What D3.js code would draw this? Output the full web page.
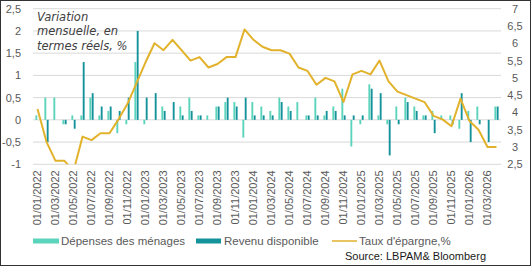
<!DOCTYPE html>
<html lang="fr">
<head>
<meta charset="UTF-8">
<title>Variation mensuelle, en termes réels</title>
<script src="https://d3js.org/d3.v7.min.js"></script>
<style>
  body { margin: 0; padding: 0; background: #ffffff; }
  svg { display: block; font-family: 'Liberation Sans', Arial, sans-serif; }
  .tick text { fill: #595959; font-size: 11px; }
</style>
</head>
<body>
<svg id="chart"></svg>
<script>
// monthly categories (Excel dates shown as dd/mm/yyyy)
const months = [
  "01/01/2022","01/02/2022","01/03/2022","01/04/2022","01/05/2022","01/06/2022",
  "01/07/2022","01/08/2022","01/09/2022","01/10/2022","01/11/2022","01/12/2022",
  "01/01/2023","01/02/2023","01/03/2023","01/04/2023","01/05/2023","01/06/2023",
  "01/07/2023","01/08/2023","01/09/2023","01/10/2023","01/11/2023","01/12/2023",
  "01/01/2024","01/02/2024","01/03/2024","01/04/2024","01/05/2024","01/06/2024",
  "01/07/2024","01/08/2024","01/09/2024","01/10/2024","01/11/2024","01/12/2024",
  "01/01/2025","01/02/2025","01/03/2025","01/04/2025","01/05/2025","01/06/2025",
  "01/07/2025","01/08/2025","01/09/2025","01/10/2025","01/11/2025","01/12/2025",
  "01/01/2026","01/02/2026","01/03/2026","01/04/2026"
];

// Dépenses des ménages (m/m, %)
const depenses = [
  0.1, 0.5, 0.5, -0.1, 0.1, 0.1, 0.5, 0.1, 0.2, -0.3, -0.1, 1.3,
  -0.1, 0, 0.3, 0, 0.3, 0.5, 0.1, 0.1, 0.3, 0.4, 0.4, -0.4,
  0.4, 0.3, 0.2, 0.5, 0.3, 0.4, 0.1, 0.5, 0.1, 0.3, 0.7, -0.6,
  -0.1, 0.8, 0.1, -0.1, 0.3, 0.5, 0.3, 0.1, 0.2, 0.1, 0.1, -0.2,
  0.2, 0.3, 0, 0.3
];

// Revenu disponible (m/m, %)
const revenu = [
  0, -0.5, 0, -0.1, -0.2, 1.3, 0.6, 0.3, 0.3, 0.2, 0.5, 2.0,
  0.5, 0.6, 0.2, 0.4, 0.1, 0.2, 0.1, 0, 0.3, 0.5, 0.3, 0.5,
  0.1, 0.1, 0.1, 0.4, 0.2, 0, 0.1, 0.1, 0.2, 0.2, 0.1, 0.1,
  0.1, 0.7, 0.6, -0.8, -0.1, 0.4, 0.2, 0.1, -0.3, 0, -0.1, 0.6,
  -0.5, -0.1, -0.5, 0.3
];

// Taux d'épargne (%), right axis
const epargne = [
  4.1, 3.15, 2.6, 2.6, 2.3, 3.3, 3.2, 3.4, 3.4, 3.8, 4.25, 4.85,
  5.45, 6.0, 5.8, 6.1, 5.8, 5.5, 5.6, 5.3, 5.4, 5.6, 5.6, 6.4,
  6.1, 5.9, 5.8, 5.8, 5.7, 5.3, 5.2, 4.8, 5.0, 4.9, 4.3, 5.1,
  5.2, 5.1, 5.5, 4.9, 4.6, 4.5, 4.4, 4.3, 3.9, 3.8, 3.6, 4.4,
  3.75, 3.5, 3.0, 3.0
];

const leftTicks = [-1, -0.5, 0, 0.5, 1, 1.5, 2, 2.5];
const rightTicks = [2.5, 3, 3.5, 4, 4.5, 5, 5.5, 6, 6.5, 7];
const seriesNames = ["Dépenses des ménages", "Revenu disponible", "Taux d'épargne,%"];

const W = 531, H = 266;
const plot = { left: 33, right: 501, top: 8.7, bottom: 164.3 };
const colLight = "#5cd3bb", colDark = "#14939b", colLine = "#e2b22c";

const svg = d3.select("#chart").attr("width", W).attr("height", H);
svg.append("rect").attr("width", W).attr("height", H).attr("fill", "#fff");

const fmt = v => String(v).replace(".", ",");

const x = d3.scaleBand().domain(months)
  .range([plot.left, plot.right]).paddingInner(0.53).paddingOuter(0.265);
const xSub = d3.scaleBand().domain(["dep", "rev"])
  .range([0, x.bandwidth()]).paddingInner(0.2);
const y = d3.scaleLinear().domain([-1, 2.5]).range([plot.bottom, plot.top]);
const y2 = d3.scaleLinear().domain([2.5, 7]).range([plot.bottom, plot.top]);

// gridlines
svg.append("g").selectAll("line").data(leftTicks).join("line")
  .attr("x1", plot.left).attr("x2", plot.right)
  .attr("y1", d => y(d)).attr("y2", d => y(d))
  .attr("stroke", "#d9d9d9").attr("stroke-width", 1);

// left axis
const gl = svg.append("g").attr("transform", `translate(${plot.left - 12},0)`)
  .call(d3.axisLeft(y).tickValues(leftTicks).tickSize(0).tickFormat(fmt));
gl.select(".domain").remove();
gl.selectAll("text").attr("x", 0);

// right axis
const gr = svg.append("g").attr("transform", `translate(${plot.right + 14},0)`)
  .call(d3.axisRight(y2).tickValues(rightTicks).tickSize(0).tickFormat(fmt));
gr.select(".domain").remove();
gr.selectAll("text").attr("x", 0).attr("text-anchor", "middle");

// annotation
const note = svg.append("text").attr("x", 37).attr("font-family", "'DejaVu Sans', sans-serif")
  .attr("font-style", "italic").attr("font-size", 11.5).attr("fill", "#404040");
["Variation", "mensuelle, en", "termes réels, %"].forEach((t, i) => {
  note.append("tspan").attr("x", 37).attr("y", 20.5 + i * 14.8).text(t);
});

// bars
const rows = months.map((m, i) => ({ m, dep: depenses[i], rev: revenu[i] }));
const grp = svg.append("g").selectAll("g").data(rows).join("g")
  .attr("transform", d => `translate(${x(d.m)},0)`);
grp.selectAll("rect").data(d => [{ k: "dep", v: d.dep }, { k: "rev", v: d.rev }])
  .join("rect")
  .attr("x", d => xSub(d.k))
  .attr("width", xSub.bandwidth())
  .attr("y", d => y(Math.max(0, d.v)))
  .attr("height", d => Math.abs(y(d.v) - y(0)))
  .attr("fill", d => d.k === "dep" ? colLight : colDark);

// savings rate line, clipped to plot area
svg.append("clipPath").attr("id", "clip").append("rect")
  .attr("x", plot.left).attr("y", plot.top)
  .attr("width", plot.right - plot.left).attr("height", plot.bottom - plot.top);
const line = d3.line()
  .x((d, i) => x(months[i]) + x.bandwidth() / 2)
  .y(d => y2(d));
svg.append("path").datum(epargne)
  .attr("clip-path", "url(#clip)")
  .attr("d", line).attr("fill", "none")
  .attr("stroke", colLine).attr("stroke-width", 2).attr("stroke-linejoin", "round");

// x axis labels every two months
const gx = svg.append("g").attr("transform", `translate(0,${plot.bottom + 5})`)
  .call(d3.axisBottom(x).tickValues(months.filter((d, i) => i % 2 === 0)).tickSize(0));
gx.select(".domain").remove();
gx.selectAll("text")
  .attr("transform", "rotate(-90)")
  .attr("text-anchor", "end")
  .attr("x", -1).attr("y", 0).attr("dy", "0.35em");

// legend
const lg = svg.append("g").attr("font-size", 11.5).attr("fill", "#595959");
lg.append("rect").attr("x", 33).attr("y", 238.5).attr("width", 26).attr("height", 5).attr("fill", colLight);
lg.append("text").attr("x", 61).attr("y", 245).text(seriesNames[0]);
lg.append("rect").attr("x", 196).attr("y", 238.5).attr("width", 25).attr("height", 5).attr("fill", colDark);
lg.append("text").attr("x", 224).attr("y", 245).text(seriesNames[1]);
lg.append("line").attr("x1", 332).attr("x2", 357).attr("y1", 241).attr("y2", 241)
  .attr("stroke", colLine).attr("stroke-width", 1.5);
lg.append("text").attr("x", 359).attr("y", 245).text(seriesNames[2]);

svg.append("text").attr("x", 486).attr("y", 260).attr("text-anchor", "end")
  .attr("font-size", 11).attr("fill", "#1a1a1a").text("Source: LBPAM& Bloomberg");

// outer frame
svg.append("rect").attr("x", 0.5).attr("y", 0.5).attr("width", W - 1).attr("height", H - 1)
  .attr("fill", "none").attr("stroke", "#333");
</script>
</body>
</html>
